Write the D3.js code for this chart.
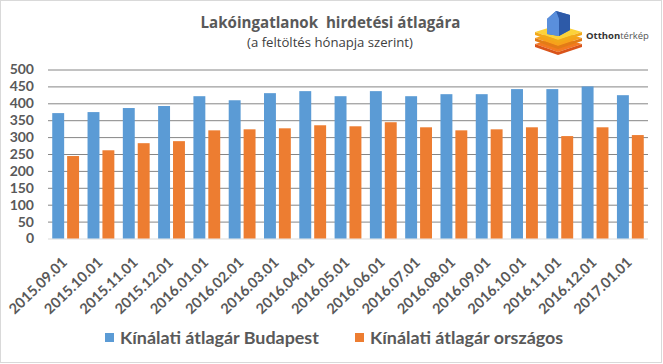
<!DOCTYPE html>
<html><head><meta charset="utf-8">
<script src="https://cdn.jsdelivr.net/npm/d3@7"></script>
<style>body{margin:0;background:#fff}svg{display:block}</style>
</head><body><svg id="c" width="663" height="364"></svg>
<script>
const categories = ["2015.09.01","2015.10.01","2015.11.01","2015.12.01","2016.01.01","2016.02.01","2016.03.01","2016.04.01","2016.05.01","2016.06.01","2016.07.01","2016.08.01","2016.09.01","2016.10.01","2016.11.01","2016.12.01","2017.01.01"];
const budapest = [371,374,386,392,421,409,430,436,421,436,421,427,427,442,442,450,424];
const orszagos = [244,261,282,288,320,323,326,335,332,344,329,320,323,329,303,329,306];
const seriesNames = ["Kínálati átlagár Budapest","Kínálati átlagár országos"];
const seriesColors = ["#5b9bd5","#ed7d31"];
const yTicks = [0,50,100,150,200,250,300,350,400,450,500];
const title = "Lakóingatlanok  hirdetési átlagára";
const subtitle = "(a feltöltés hónapja szerint)";

const svg = d3.select("#c");
const W = 663, H = 364;
const txt = "#595959";
const font = "Lato, 'Open Sans', sans-serif";

svg.append("rect").attr("x",0.5).attr("y",0.5).attr("width",W-2).attr("height",H-2)
  .attr("fill","#fff").attr("stroke","#d9d9d9");

const x0 = d3.scaleBand().domain(categories).range([48,648]).paddingInner(0.24).paddingOuter(0.12);
const x1 = d3.scaleBand().domain([0,1]).range([0,x0.bandwidth()]).paddingInner(0.2);
const y = d3.scaleLinear().domain([0,500]).range([238.5,69.5]);

// gridlines + y labels
const yAxis = d3.axisLeft(y).tickValues(yTicks).tickSize(-600).tickPadding(14).tickFormat(d3.format("d"));
const gy = svg.append("g").attr("transform","translate(48,0)").call(yAxis);
gy.select(".domain").remove();
gy.selectAll(".tick line").attr("stroke",d=>d===0?"#d9d9d9":"#868686").attr("stroke-width",1);
gy.selectAll(".tick text").attr("fill",txt).attr("font-family",font).attr("font-weight","bold").attr("font-size","14px");

// bars
const data = categories.map((c,i)=>({c,v:[budapest[i],orszagos[i]]}));
const groups = svg.append("g").selectAll("g").data(data).join("g")
  .attr("transform",d=>`translate(${x0(d.c)},0)`);
groups.selectAll("rect").data(d=>d.v.map((v,k)=>({v,k}))).join("rect")
  .attr("x",d=>x1(d.k)).attr("width",x1.bandwidth())
  .attr("y",d=>y(d.v)).attr("height",d=>y(0)-y(d.v))
  .attr("fill",d=>seriesColors[d.k]);

// x axis labels
const xAxis = d3.axisBottom(x0).tickSize(0).tickPadding(0);
const gx = svg.append("g").attr("transform","translate(0,238.5)").call(xAxis);
gx.select(".domain").remove();
gx.selectAll(".tick text").attr("fill",txt).attr("font-family",font).attr("font-weight","bold")
  .attr("font-size","14.5px").attr("text-anchor","end").attr("dy",null).attr("y",0)
  .attr("transform","translate(2.5,25) rotate(-44)");

// fit helper: scale font-size so the text spans a target width
function fit(sel, target){
  const w = sel.node().getComputedTextLength();
  const fs = parseFloat(sel.attr("font-size"));
  sel.attr("font-size", (fs*target/w).toFixed(2)+"px");
}

// title
const t1 = svg.append("text").attr("x",330.5).attr("y",27.7).attr("text-anchor","middle")
  .attr("fill",txt).attr("font-family","'Open Sans', sans-serif").attr("font-weight","bold").attr("font-size","14px")
  .style("white-space","pre").text(title);
fit(t1, 260);
const t2 = svg.append("text").attr("x",330).attr("y",47).attr("text-anchor","middle")
  .attr("fill","#404040").attr("font-family","'Open Sans', sans-serif").attr("font-size","11.5px").text(subtitle);
fit(t2, 166);

// legend
const leg = svg.append("g");
const legX = [105,355];
seriesNames.forEach((n,k)=>{
  leg.append("rect").attr("x",legX[k]).attr("y",333).attr("width",9).attr("height",9).attr("fill",seriesColors[k]);
  const t = leg.append("text").attr("x",legX[k]+15).attr("y",344).attr("fill",txt).attr("font-family",font)
    .attr("font-weight","bold").attr("font-size","16px").text(n);
  if(k===0) fit(t,199);
  else t.attr("font-size", leg.select("text").attr("font-size"));
});

// logo
const lg = svg.append("g");
const layer = (yy,c1,c2)=>{
  lg.append("path").attr("d",`M535,${yy} L558,${yy-7} L582,${yy} L558,${yy+8} Z`).attr("fill",c1);
  lg.append("path").attr("d",`M535,${yy} L558,${yy+8} L582,${yy} L582,${yy+3} L558,${yy+11} L535,${yy+3} Z`).attr("fill",c2);
};
layer(44,"#f47a20","#d9541a");
layer(38,"#f7a21b","#e27c16");
layer(32,"#fcd23a","#f2a91a");
lg.append("path").attr("d","M547,34 L547,19 L556,11 L570,15 L570,30 L559,36 Z").attr("fill","#3c6fc0");
lg.append("path").attr("d","M556,11 L570,15 L570,30 L559,36 L559,19 Z").attr("fill","#2d5aa8");
lg.append("path").attr("d","M547,19 L556,11 L559,19 L559,36 L547,34 Z").attr("fill","#5a8fdc");
const lt = svg.append("text").attr("x",586).attr("y",39).attr("font-family","'Open Sans', sans-serif").attr("font-size","9.5px");
lt.append("tspan").attr("font-weight","bold").attr("fill","#333").text("Otthon");
lt.append("tspan").attr("fill","#555").text("térkép");
</script></body></html>
